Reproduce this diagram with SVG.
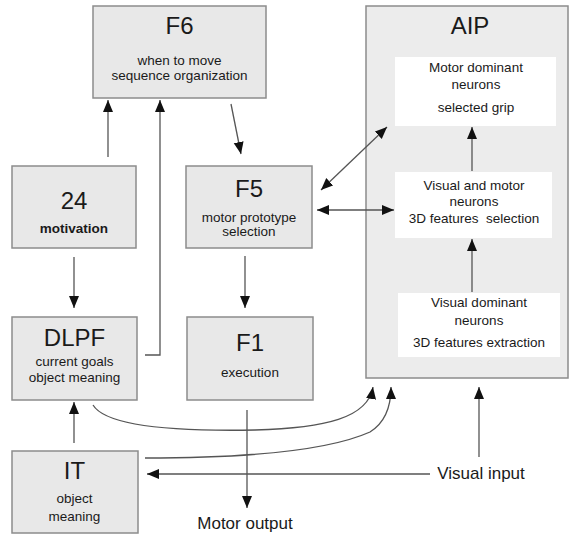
<svg xmlns="http://www.w3.org/2000/svg" width="570" height="538" viewBox="0 0 570 538">
<defs>
<style>
.box{fill:#e8e8e8;stroke:#8c8c8c;stroke-width:1.5}
.aip{fill:#ececec;stroke:#8c8c8c;stroke-width:1.5}
.inner{fill:#ffffff;stroke:none}
.t{font-family:"Liberation Sans",Arial,sans-serif;fill:#1a1a1a;text-anchor:middle}
.title{font-size:24px}
.sub{font-size:13.5px}
.lbl{font-size:17px}
.ln{fill:none;stroke:#555;stroke-width:1.3}
.a{marker-end:url(#ah)}
.d{marker-start:url(#ah);marker-end:url(#ah)}
</style>
<marker id="ah" markerUnits="userSpaceOnUse" markerWidth="13" markerHeight="11" refX="12" refY="5.5" orient="auto-start-reverse" viewBox="0 0 13 11">
<path d="M0,0.5 L12,5.5 L0,10.5 z" fill="#111"/>
</marker>
</defs>

<g id="F6">
<rect class="box" x="93" y="6" width="173" height="92"/>
<text class="t title" x="179.5" y="34">F6</text>
<text class="t sub" x="179.5" y="65">when to move</text>
<text class="t sub" x="179.5" y="80">sequence organization</text>
</g>

<g id="N24">
<rect class="box" x="12" y="166" width="124" height="82"/>
<text class="t title" x="74" y="209">24</text>
<text class="t sub" x="74" y="233" font-weight="bold">motivation</text>
</g>

<g id="F5">
<rect class="box" x="186" y="166" width="126" height="82"/>
<text class="t title" x="249" y="197" font-size="22">F5</text>
<text class="t sub" x="249" y="222">motor prototype</text>
<text class="t sub" x="249" y="236">selection</text>
</g>

<g id="DLPF">
<rect class="box" x="12" y="317" width="125" height="83"/>
<text class="t title" x="74.5" y="346">DLPF</text>
<text class="t sub" x="74.5" y="366">current goals</text>
<text class="t sub" x="74.5" y="382">object meaning</text>
</g>

<g id="F1">
<rect class="box" x="187" y="317" width="126" height="83"/>
<text class="t title" x="250" y="351">F1</text>
<text class="t sub" x="250" y="377">execution</text>
</g>

<g id="IT">
<rect class="box" x="12" y="451" width="126" height="82"/>
<text class="t title" x="74.5" y="479">IT</text>
<text class="t sub" x="74.5" y="503">object</text>
<text class="t sub" x="74.5" y="521">meaning</text>
</g>

<g id="AIP">
<rect class="aip" x="366" y="6" width="202" height="372"/>
<text class="t title" x="470" y="34">AIP</text>
</g>

<g id="MotorDominant">
<rect class="inner" x="395" y="57" width="161" height="69"/>
<text class="t sub" x="476" y="72">Motor dominant</text>
<text class="t sub" x="476" y="89">neurons</text>
<text class="t sub" x="476" y="112">selected grip</text>
</g>

<g id="VisualMotor">
<rect class="inner" x="395" y="172" width="157" height="66"/>
<text class="t sub" x="474" y="190">Visual and motor</text>
<text class="t sub" x="474" y="206">neurons</text>
<text class="t sub" x="474" y="223" xml:space="preserve">3D features  selection</text>
</g>

<g id="VisualDominant">
<rect class="inner" x="398" y="293" width="162" height="64"/>
<text class="t sub" x="479" y="307">Visual dominant</text>
<text class="t sub" x="479" y="325">neurons</text>
<text class="t sub" x="479" y="347">3D features extraction</text>
</g>

<g id="MotorOutput">
<text class="t lbl" x="245" y="529">Motor output</text>
</g>

<g id="VisualInput">
<text class="t lbl" x="481" y="479">Visual input</text>
</g>

<g id="connectors">
<path class="ln a" d="M108,157 L108,100"/>
<path class="ln a" d="M145,355 L160,355 L160,100"/>
<path class="ln a" d="M231,104 L241,154"/>
<path class="ln a" d="M74,257 L74,308"/>
<path class="ln a" d="M245,256 L245,308"/>
<path class="ln d" d="M321,190 L387,127"/>
<path class="ln d" d="M317,210 L394,210"/>
<path class="ln a" d="M472,171 L472,127"/>
<path class="ln a" d="M472,292 L472,239"/>
<path class="ln a" d="M74,443 L74,402"/>
<path class="ln a" d="M93,405 C108,430 200,431 255,430 C325,428 368,418 373,387"/>
<path class="ln a" d="M145,458 C250,458 330,450 370,432 C386,422 391,405 391,387"/>
<path class="ln a" d="M430,474 L147,474"/>
<path class="ln a" d="M479,457 L479,387"/>
<path class="ln a" d="M247,410 L247,508"/>
</g>
</svg>
